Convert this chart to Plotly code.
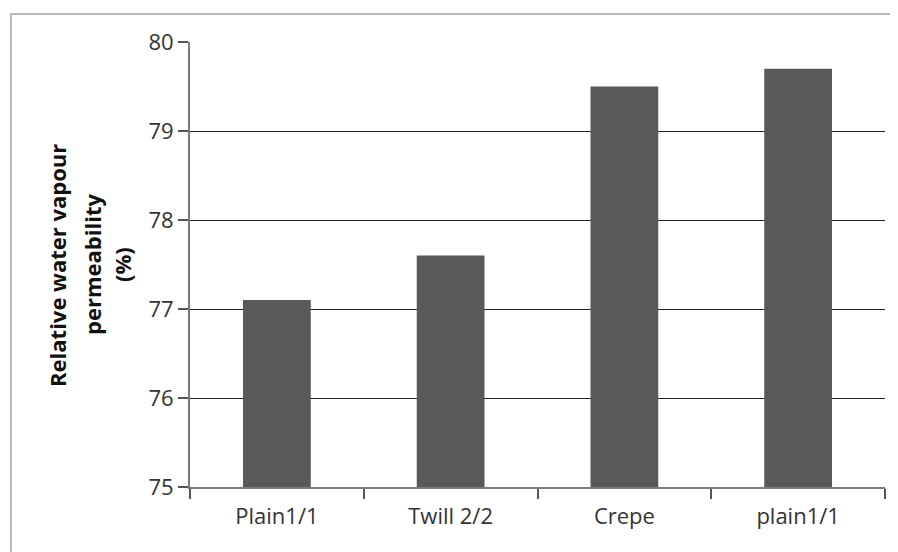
import plotly.graph_objects as go

categories = ["Plain1/1", "Twill 2/2", "Crepe", "plain1/1"]
values = [77.1, 77.6, 79.5, 79.7]
y_ticks = [75, 76, 77, 78, 79, 80]
y_title_lines = ["Relative water vapour", "permeability", "(%)"]

font_family = "Open Sans, Liberation Sans, Arial, sans-serif"

fig = go.Figure()
fig.add_trace(go.Bar(
    x=categories,
    y=values,
    marker=dict(color="#595959", line=dict(width=0)),
    width=0.39,
))

title_x = [-0.1914, -0.141, -0.0978]
annotations = [
    dict(text="<b>%s</b>" % line,
         xref="paper", yref="paper", x=xp, y=0.499,
         textangle=-90, showarrow=False,
         font=dict(size=22, color="#111111", family=font_family),
         xanchor="center", yanchor="middle")
    for line, xp in zip(y_title_lines, title_x)
]

fig.update_layout(
    width=890,
    height=544,
    margin=dict(l=182, r=13, t=34, b=65),
    paper_bgcolor="white",
    plot_bgcolor="white",
    showlegend=False,
    font=dict(family=font_family, size=22, color="#333333"),
    xaxis=dict(
        type="category",
        tickson="boundaries",
        ticks="outside",
        ticklen=10,
        tickcolor="#555555",
        tickwidth=1.5,
        showline=True,
        linecolor="#7a7a7a",
        linewidth=2,
        showgrid=False,
        tickfont=dict(size=22, color="#333333"),
        ticklabelstandoff=9,
    ),
    yaxis=dict(
        range=[75, 80],
        tickvals=y_ticks,
        ticks="outside",
        ticklen=10,
        tickcolor="#555555",
        tickwidth=1.5,
        showline=True,
        linecolor="#7a7a7a",
        linewidth=2,
        showgrid=True,
        gridcolor="#222222",
        gridwidth=1,
        zeroline=False,
        tickfont=dict(size=22, color="#333333"),
        ticklabelstandoff=0,
    ),
    shapes=[
        dict(type="rect", xref="paper", yref="paper",
             x0=-0.2576, x1=1.03, y0=-0.2, y1=1.0629,
             line=dict(color="#bbbbbb", width=2), fillcolor="rgba(0,0,0,0)",
             layer="below"),
    ],
    annotations=annotations,
)

fig.write_html("out.html")
